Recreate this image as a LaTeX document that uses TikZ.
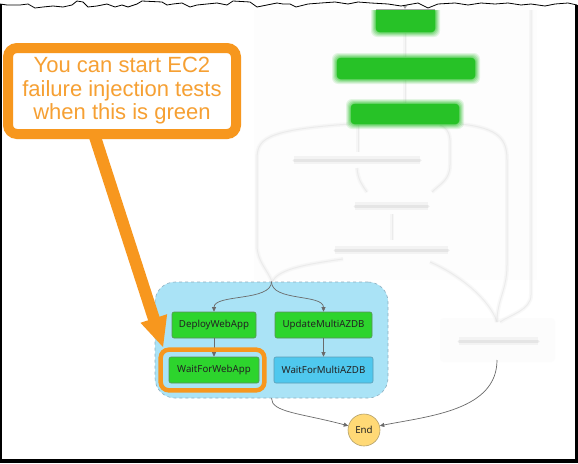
\documentclass[tikz,border=0pt]{standalone}
\usepackage{fontspec}
\setmainfont{Noto Sans}
\newfontfamily\calloutfont{Liberation Sans}
\usetikzlibrary{arrows.meta}
\definecolor{ngreen}{HTML}{2DD42D}
\definecolor{ngreenb}{HTML}{5B8F5B}
\definecolor{nblue}{HTML}{4FC8EE}
\definecolor{nblueb}{HTML}{5B9DB5}
\definecolor{parfill}{HTML}{AAE3F6}
\definecolor{parborder}{HTML}{8FAFC0}
\definecolor{endfill}{HTML}{FFD976}
\definecolor{endborder}{HTML}{B3A06A}
\definecolor{ntext}{HTML}{222222}
\definecolor{callorange}{HTML}{F7971E}
\definecolor{calltext}{HTML}{F6A033}
\definecolor{blurgreen}{HTML}{27C227}
\definecolor{conngray}{HTML}{6A6A6A}
\newcommand\gblur[4]{%
  \foreach \d/\o in {5/0.12,4/0.15,3/0.2,2/0.25,1/0.35}{%
    \fill[blurgreen, opacity=\o, rounded corners=6pt] (#1-\d,#2-\d) rectangle (#3+\d,#4+\d);}
  \fill[blurgreen, rounded corners=3pt] (#1,#2) rectangle (#3,#4);}
\tikzset{
  gbox/.style={draw=ngreenb, fill=ngreen, rounded corners=2pt, line width=0.6pt,
    inner sep=0pt, minimum height=26pt, text=ntext, font=\fontsize{9.7}{11}\selectfont},
  bbox/.style={gbox, draw=nblueb, fill=nblue},
  parbox/.style={draw=parborder, dashed, fill=parfill, rounded corners=20pt, line width=0.6pt},
  endnode/.style={circle, draw=endborder, fill=endfill, minimum size=32pt, inner sep=0pt,
    line width=0.6pt, text=ntext, font=\fontsize{9.7}{11}\selectfont},
  conn/.style={draw=conngray, line width=0.7pt, -{Triangle[length=4.5pt,width=4pt]}},
  callout/.style={draw=callorange, line width=10pt, fill=white, rounded corners=9pt,
    inner sep=0pt, align=center, text=calltext,
    font=\calloutfont\fontsize{22}{23.5}\selectfont},
  hilite/.style={draw=callorange, line width=4.5pt, rounded corners=8pt},
  haze/.style={draw=gray!40, line width=1pt, opacity=0.25,
    preaction={draw=gray!20, line width=4pt, opacity=0.25}},
  hbar/.style={line cap=round, draw=gray!45, line width=3pt, opacity=0.3,
    preaction={draw=gray!25, line width=8pt, opacity=0.3}},
}
\begin{document}
\begin{tikzpicture}[x=1pt,y=-1pt]
\useasboundingbox (0,0) rectangle (578,463);
\fill[white] (0,0) rectangle (578,463);

% ---- blurred background part of the screenshot ----
\begin{scope}
\clip (0,10) rectangle (578,463);
\fill[gray!1.5] (254,10) rectangle (537,280);
\fill[gray!2, rounded corners=4pt] (440,318) rectangle (555,362);
% faint connectors
\draw[haze] (405,33) -- (405,57);
\draw[haze] (405,80) -- (405,103);
\draw[haze] (358,125) -- (358,152);
\draw[haze] (440,125) .. controls (452,130) and (450,140) .. (450,155) -- (450,165) .. controls (450,180) and (440,184) .. (432,192);
\draw[haze] (357,168) .. controls (358,180) and (362,185) .. (367,192);
\draw[haze] (392,214) -- (392,240);
\draw[haze] (350,124) .. controls (262,130) and (257,140) .. (257,160) -- (257,245) .. controls (257,262) and (268,270) .. (272,282);
\draw[haze] (343,259) .. controls (300,265) and (278,270) .. (272,282);
\draw[haze] (460,124) .. controls (500,128) and (507,140) .. (507,160) -- (507,265) .. controls (507,290) and (497,300) .. (497,322);
\draw[haze] (430,262) .. controls (460,275) and (490,300) .. (497,322);
\draw[haze] (531,10) -- (531,295) .. controls (531,310) and (510,315) .. (500,322);
% blurred text bars
\draw[hbar] (294,160) -- (420,160);
\draw[hbar] (355,206) -- (428,206);
\draw[hbar] (335,250) -- (448,250);
\draw[hbar] (459,341) -- (538,341);
% blurred green states
\gblur{376}{8}{435}{32}
\gblur{337}{58}{475}{79}
\gblur{351}{104}{459}{124}
\end{scope}
\draw[gray!70, line width=1pt] (376,9) -- (435,9);
\fill[gray!70] (402.5,5) -- (407.5,5) -- (405,9) -- cycle;

% ---- parallel state ----
\node[parbox, minimum width=233pt, minimum height=116pt] (par) at (271.5,340) {};
\node[gbox, minimum width=84pt] (deploy) at (214,325) {DeployWebApp};
\node[gbox, minimum width=97pt] (update) at (323.5,325) {UpdateMultiAZDB};
\node[gbox, minimum width=90pt] (wait) at (214,370) {WaitForWebApp};
\node[bbox, minimum width=99pt] (waitdb) at (323.5,370) {WaitForMultiAZDB};
\node[endnode] (end) at (364,430) {End};
\coordinate (rb) at (497,360);

\draw[conn] (par.north) .. controls +(0,20) and +(0,-18) .. (deploy.north);
\draw[conn] (par.north) .. controls +(0,20) and +(0,-18) .. (update.north);
\draw[conn] (deploy) -- (wait);
\draw[conn] (update) -- (waitdb);
\draw[conn] (par.south) .. controls +(0,14) and (300,413) .. (end.165);
\draw[conn] (rb) .. controls (497,410) and (430,416) .. (end.15);

% ---- callout ----
\fill[callorange] (89,137.8) -- (148.1,320.3) -- (140.5,322.8) -- (163,347)
  -- (167.1,314.2) -- (159.5,316.7) -- (100.4,134.2) -- cycle;
\node[callout, minimum width=228pt, minimum height=86pt] (note) at (122,91)
  {You can start EC2\\failure injection tests\\when this is green};
\draw[hilite] ([shift={(-8,-7)}]wait.north west) rectangle ([shift={(5,7)}]wait.south east);

% ---- torn screenshot frame ----
\draw[black, line width=0.8pt, line join=round] plot coordinates {
(0,4) (7,5) (20,5) (28,4) (35,8) (43,7) (53,6) (63,7) (72,5) (77,1) (83,2) (88,7)
(97,6) (107,4) (115,7) (122,5) (128,7) (137,4) (142,1) (162,2) (167,5) (173,4)
(182,3) (190,7) (197,5) (207,4) (217,3) (227,5) (233,1) (250,2) (257,7) (267,5)
(277,3) (283,4) (290,4) (296,7) (308,4) (321,3) (335,2) (348,4) (358,2) (371,3)
(388,4) (401,6) (418,3) (428,8) (438,4) (455,3) (468,5) (481,3) (495,4) (508,3)
(521,5) (531,4) (545,6) (555,4) (568,3) (577,5)};
\fill[black] (0,4) rectangle (2.2,463);
\fill[black] (575,5) rectangle (578,463);
\fill[black] (0,459) rectangle (578,463);
\end{tikzpicture}
\end{document}
